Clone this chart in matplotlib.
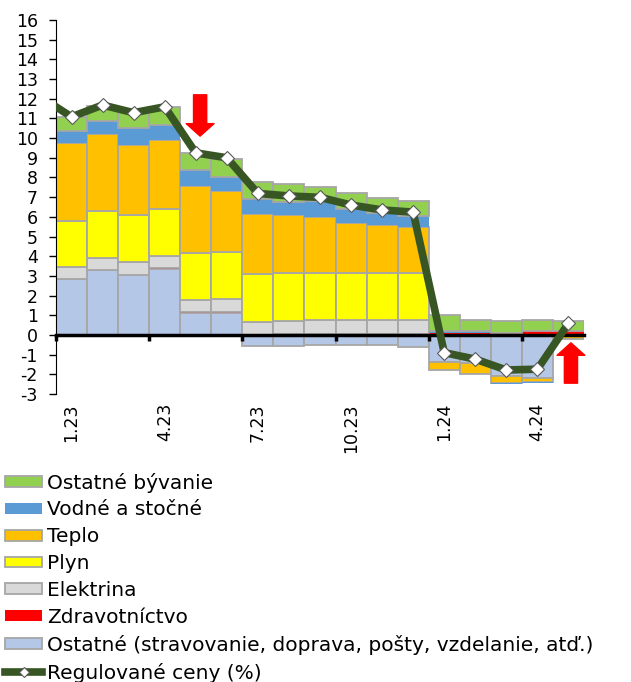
# -*- coding: utf-8 -*-

import numpy as np
import matplotlib.pyplot as plt
import matplotlib
from matplotlib.patches import Patch
from matplotlib.lines import Line2D

matplotlib.rc('font', **{'family': 'sans-serif',
                         'sans-serif': ['DejaVu Sans'], 'size': 12})
matplotlib.rcParams['axes.unicode_minus'] = False

months = ['1.23', '2.23', '3.23', '4.23', '5.23', '6.23', '7.23', '8.23',
          '9.23', '10.23', '11.23', '12.23', '1.24', '2.24', '3.24', '4.24',
          '5.24']

# contributions (p.b.)
ostatne = [2.83, 3.30, 3.05, 3.33, 1.12, 1.12, -0.54, -0.55, -0.52, -0.51,
           -0.52, -0.60, -1.35, -1.40, -2.10, -2.17, -0.06]
zdrav = [0, 0, 0, 0.06, 0.06, 0.06, 0, 0.06, 0.06, 0.06, 0.06, 0.06,
         0.12, 0.12, 0.12, 0.22, 0.22]
elektrina = [0.60, 0.63, 0.64, 0.62, 0.60, 0.65, 0.68, 0.67, 0.70, 0.70,
             0.70, 0.70, 0, 0, 0, 0, 0]
plyn = [2.37, 2.38, 2.40, 2.39, 2.40, 2.38, 2.40, 2.40, 2.40, 2.40, 2.40,
        2.40, 0, 0, 0, 0, 0]
teplo = [3.93, 3.88, 3.55, 3.50, 3.38, 3.12, 3.05, 2.96, 2.85, 2.54, 2.42,
         2.34, -0.45, -0.58, -0.32, -0.20, -0.15]
vodne = [0.63, 0.69, 0.88, 0.79, 0.82, 0.71, 0.77, 0.68, 0.80, 0.68, 0.60,
         0.54, 0.10, 0.10, -0.05, -0.06, 0]
byvanie = [0.69, 0.76, 0.82, 0.87, 0.87, 0.90, 0.88, 0.88, 0.73, 0.84, 0.76,
           0.76, 0.78, 0.54, 0.60, 0.54, 0.51]

# regulated prices, y/y %, first value is 12.22 (outside the axis)
reg_prev = 12.1
regulovane = [11.08, 11.68, 11.29, 11.59, 9.25, 9.0, 7.19, 7.06, 6.99, 6.6,
              6.35, 6.24, -0.9, -1.23, -1.78, -1.74, 0.59]

series = [
    (ostatne, u'Ostatné (stravovanie, doprava, pošty, vzdelanie, atď.)',
     '#b4c7e7', '#a6a6a6'),
    (zdrav, u'Zdravotníctvo', '#ff0000', 'none'),
    (elektrina, u'Elektrina', '#d9d9d9', '#a6a6a6'),
    (plyn, u'Plyn', '#ffff00', '#a6a6a6'),
    (teplo, u'Teplo', '#ffc000', '#a6a6a6'),
    (vodne, u'Vodné a stočné', '#5b9bd5', 'none'),
    (byvanie, u'Ostatné bývanie', '#92d050', '#a6a6a6'),
]

fig = plt.figure(figsize=(6.31, 6.82), dpi=100)
ax = fig.add_axes([56/631., 1 - 394/682., (584 - 56)/631., (394 - 20)/682.])
ax.set_axisbelow(False)

x = np.arange(len(months))
pos = np.zeros(len(months))
neg = np.zeros(len(months))
handles = []
for vals, lab, col, ec in series:
    v = np.array(vals, dtype=float)
    bottom = np.where(v >= 0, pos, neg)
    m = v != 0
    ax.bar(x[m], v[m], bottom=bottom[m], width=1.0, color=col,
           edgecolor=ec, linewidth=1.3, zorder=2)
    pos += np.clip(v, 0, None)
    neg += np.clip(v, None, 0)
    handles.append(Patch(facecolor=col, edgecolor=ec, linewidth=1.3, label=lab))

xl = np.arange(-1, len(months))
ax.plot(xl, [reg_prev] + regulovane, color='#375623', lw=5.5, marker='D',
        ms=7.5, mfc='white', mec='#595959', mew=0.8, zorder=4)
line_h = Line2D([], [], color='#375623', lw=5.5, marker='D', ms=5,
                mfc='white', mec='#595959', mew=0.8,
                label=u'Regulované ceny (%)')

# red arrows
arr = dict(arrowstyle='simple,head_width=2.0,head_length=0.9,tail_width=0.95',
           color='red', mutation_scale=10, shrinkA=0, shrinkB=0)
ax.annotate('', xy=(4.14, 10.1), xytext=(4.14, 12.2), arrowprops=arr,
            zorder=5)
ax.annotate('', xy=(16.08, -0.4), xytext=(16.08, -2.45), arrowprops=arr,
            zorder=5)

ax.set_xlim(-0.5, len(months) - 0.5)
ax.set_ylim(-3, 16)
ax.set_yticks(range(-3, 17))
ax.tick_params(axis='y', direction='out', length=5, width=1, pad=8,
               labelsize=12.5)

ax.spines['top'].set_visible(False)
ax.spines['right'].set_visible(False)
ax.spines['left'].set_color('black')
ax.spines['bottom'].set_position(('data', 0))
ax.spines['bottom'].set_linewidth(2.5)
ax.spines['bottom'].set_color('black')
ax.spines['bottom'].set_zorder(3)

ax.set_xticks(x[::3])
ax.set_xticklabels(months[::3], rotation=90, va='top', ha='center')
ax.set_xticks(np.arange(-0.5, len(months) - 1, 3), minor=True)
ax.tick_params(axis='x', which='major', length=0, pad=49, labelsize=12.5)
ax.tick_params(axis='x', which='minor', length=4, width=2.5, direction='out')

leg_handles = [handles[6], handles[5], handles[4], handles[3], handles[2],
               handles[1], handles[0], line_h]
fig.legend(handles=leg_handles, loc='upper left',
           bbox_to_anchor=(0.008, 0.307), frameon=False, fontsize=14.5,
           handlelength=1.84, handleheight=0.45, handletextpad=0.26,
           labelspacing=0.39, borderpad=0, borderaxespad=0)

fig.savefig('out.png', dpi=100)
